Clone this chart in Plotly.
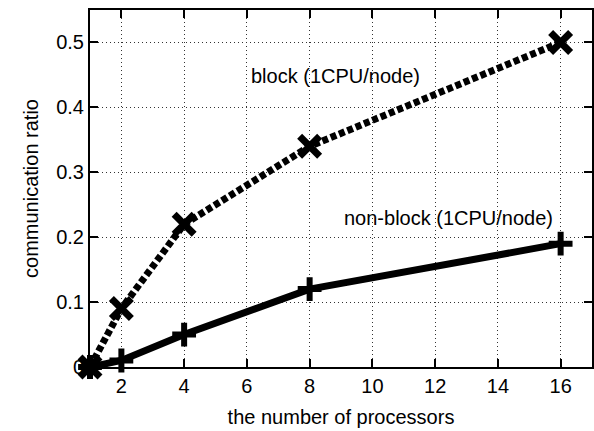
import plotly.graph_objects as go

procs = [1, 2, 4, 8, 16]
block = [0.0, 0.09, 0.22, 0.34, 0.50]
nonblock = [0.0, 0.01, 0.05, 0.12, 0.19]
x_ticks = [2, 4, 6, 8, 10, 12, 14, 16]
y_ticks = [0, 0.1, 0.2, 0.3, 0.4, 0.5]
y_labels = ["0", "0.1", "0.2", "0.3", "0.4", "0.5"]

font = dict(family="Liberation Sans, Arial, sans-serif", size=20, color="black")

fig = go.Figure()
fig.add_trace(go.Scatter(
    x=procs, y=block, mode="lines+markers", cliponaxis=False,
    line=dict(color="black", width=7, dash="6px,3px"),
    marker=dict(symbol="x-thin", size=20, line=dict(color="black", width=7), color="black"),
))
fig.add_trace(go.Scatter(
    x=procs, y=nonblock, mode="lines+markers", cliponaxis=False,
    line=dict(color="black", width=7),
    marker=dict(symbol="cross-thin", size=17, line=dict(color="black", width=6), color="black"),
))

fig.add_annotation(x=8.81, y=0.449, text="block (1CPU/node)", showarrow=False, font=font, xanchor="center")
fig.add_annotation(x=12.43, y=0.229, text="non-block (1CPU/node)", showarrow=False, font=font, xanchor="center")

axis_common = dict(
    showline=True, linecolor="black", linewidth=2, mirror="ticks",
    ticks="inside", ticklen=8, tickcolor="black", tickwidth=1.5,
    showgrid=True, gridcolor="#333333", griddash="1px,3px", gridwidth=1,
    zeroline=False, tickfont=font,
)

fig.update_xaxes(range=[1, 17], tickvals=x_ticks, title=dict(text="the number of processors", font=font, standoff=14), **axis_common)
fig.update_yaxes(range=[0, 0.55], tickvals=y_ticks, ticktext=y_labels, title=dict(text="communication ratio", font=font, standoff=12), **axis_common)

fig.update_layout(
    width=594, height=431, showlegend=False,
    margin=dict(l=90, r=0, t=10, b=64),
    paper_bgcolor="white", plot_bgcolor="white", font=font,
)
fig.write_html("out.html")
